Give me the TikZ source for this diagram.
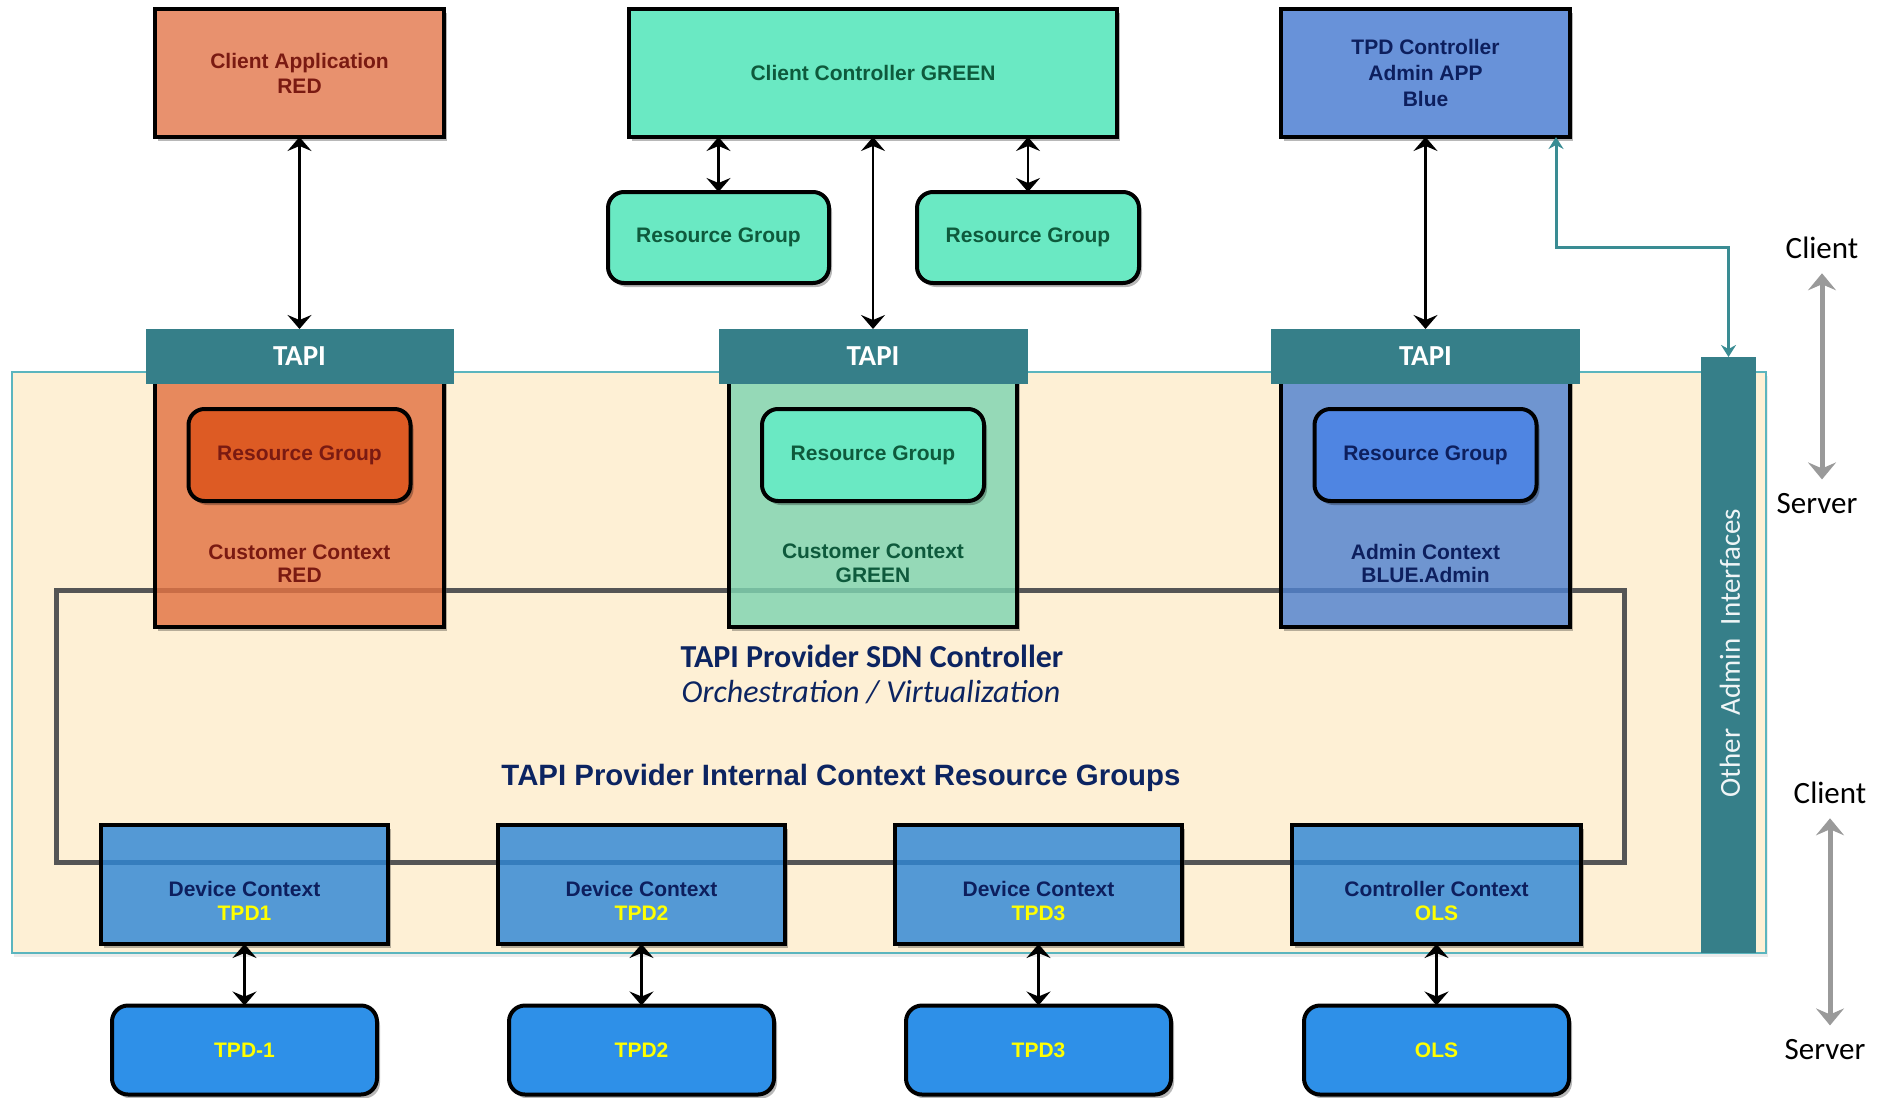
\documentclass[tikz,border=0pt]{standalone}
\usepackage{fontspec}
\setmainfont{Liberation Sans}
\newfontfamily\calib{Carlito}
\usetikzlibrary{arrows.meta,shadows,calc}

\definecolor{clientred}{HTML}{E8916E}
\definecolor{redtxt}{HTML}{7A1A12}
\definecolor{mint}{HTML}{6AE9C3}
\definecolor{greentxt}{HTML}{0E5A3C}
\definecolor{tpdblue}{HTML}{6892D9}
\definecolor{navytxt}{HTML}{0D1F5E}
\definecolor{rgred}{HTML}{DD5B24}
\definecolor{rgblue}{HTML}{4F85E2}
\definecolor{tapi}{HTML}{367F89}
\definecolor{tan}{HTML}{FEF0D5}
\definecolor{tanedge}{HTML}{5BB5BE}
\definecolor{frame}{HTML}{555555}
\definecolor{ctxred}{HTML}{E37343}
\definecolor{ctxgreen}{HTML}{7FD4B1}
\definecolor{ctxblue}{HTML}{5082CF}
\definecolor{devblue}{HTML}{2F86D5}
\definecolor{tpdbox}{HTML}{2E90E8}
\definecolor{yel}{HTML}{FFFF00}
\definecolor{titlenavy}{HTML}{0C2461}
\definecolor{tealline}{HTML}{3A8C93}
\definecolor{garrow}{HTML}{9A9A9A}

\tikzset{
  flat/.style={inner sep=0pt, outer sep=0pt},
  shad/.style={drop shadow={shadow xshift=1.5pt, shadow yshift=-2pt, opacity=.28, fill=black}},
  boxfont/.style={font=\bfseries\fontsize{10.5}{12.5}\selectfont, align=center},
  topbox/.style={flat, draw=black, line width=2pt, shad, boxfont},
  rgbox/.style={topbox, rounded corners=8pt},
  tapibar/.style={flat, fill=tapi, text=white, font=\calib\bfseries\fontsize{14.5}{17}\selectfont},
  ctxbase/.style={flat, fill=tan, shad},
  ctxbox/.style={flat, draw=black, line width=2pt, fill opacity=.82},
  ctxlabel/.style={align=center, font=\bfseries\fontsize{10.5}{11.8}\selectfont},
  link/.style={{Stealth[length=7pt,width=12pt,inset=2.5pt]}-{Stealth[length=7pt,width=12pt,inset=2.5pt]}, line width=1.2pt, black},
  sidearrow/.style={{Stealth[length=8.5pt,width=14pt,inset=3pt]}-{Stealth[length=8.5pt,width=14pt,inset=3pt]}, line width=2.5pt, garrow},
  sidelabel/.style={font=\calib\fontsize{15.5}{18}\selectfont, inner sep=1pt},
  adminlink/.style={{Stealth[length=6pt,width=7.5pt,inset=2pt]}-{Stealth[length=6pt,width=7.5pt,inset=2pt]}, line width=1.5pt, tealline}
}

\begin{document}
\begin{tikzpicture}[x=0.5pt,y=-0.5pt]
\useasboundingbox (0,0) rectangle (1878,1097);

% provider area
\node[flat, draw=tanedge, line width=1pt, fill=tan, minimum width=877pt, minimum height=290.5pt, drop shadow={shadow xshift=1pt, shadow yshift=-2pt, opacity=.15}] (prov) at (889,662.5) {};

% shadows of the translucent context boxes, kept out from under their fill
\node[ctxbase, minimum width=144.5pt, minimum height=123.5pt] (ctxrs) at (299.5,503.5) {};
\node[ctxbase, minimum width=144pt, minimum height=123.5pt] (ctxgs) at (873,503.5) {};
\node[ctxbase, minimum width=144.5pt, minimum height=123.5pt] (ctxbs) at (1425.5,503.5) {};
\node[ctxbase, minimum width=143.5pt, minimum height=59.5pt] (dc1s) at (244.5,884.5) {};
\node[ctxbase, minimum width=143.5pt, minimum height=59.5pt] (dc2s) at (641.5,884.5) {};
\node[ctxbase, minimum width=143.5pt, minimum height=59.5pt] (dc3s) at (1038.5,884.5) {};
\node[ctxbase, minimum width=144.5pt, minimum height=59.5pt] (dc4s) at (1436.5,884.5) {};

% SDN controller frame and the side bar
\node[flat, draw=frame, line width=2.5pt, minimum width=784pt, minimum height=136pt] (sdn) at (840,726) {};
\node[flat, fill=tapi, minimum width=27.5pt, minimum height=298pt] (oai) at (1728.5,655) {};
\node[rotate=90, text=white!92!tapi, font=\calib\fontsize{14.5}{17}\selectfont] (oaitext) at (1730,653) {Other\ \ Admin\ \ Interfaces};

% client side applications
\node[topbox, minimum width=144.5pt, minimum height=64pt, fill=clientred, text=redtxt] (capp) at (299.5,73) {Client Application\\RED};
\node[topbox, minimum width=244pt, minimum height=64pt, fill=mint, text=greentxt] (cctl) at (873,73) {Client Controller GREEN};
\node[topbox, minimum width=144.5pt, minimum height=64pt, fill=tpdblue, text=navytxt, font=\bfseries\fontsize{10.5}{13}\selectfont] (tpdc) at (1425.5,73) {TPD Controller\\Admin APP\\Blue};
\node[rgbox, minimum width=110.5pt, minimum height=45.5pt, fill=mint, text=greentxt] (rg1) at (718.5,237.5) {Resource Group};
\node[rgbox, minimum width=111pt, minimum height=45.5pt, fill=mint, text=greentxt] (rg2) at (1028,237.5) {Resource Group};

% contexts exposed through TAPI
\node[ctxbox, fill=ctxred, minimum width=144.5pt, minimum height=123.5pt] (ctxr) at (299.5,503.5) {};
\node[ctxbox, fill=ctxgreen, minimum width=144pt, minimum height=123.5pt] (ctxg) at (873,503.5) {};
\node[ctxbox, fill=ctxblue, minimum width=144.5pt, minimum height=123.5pt] (ctxb) at (1425.5,503.5) {};
\node[tapibar, minimum width=154pt, minimum height=27.5pt] (tapi1) at (299.5,356.5) {TAPI};
\node[tapibar, minimum width=154.5pt, minimum height=27.5pt] (tapi2) at (873,356.5) {TAPI};
\node[tapibar, minimum width=154.5pt, minimum height=27.5pt] (tapi3) at (1425.5,356.5) {TAPI};
\node[rgbox, minimum width=111pt, minimum height=46pt, fill=rgred, text=redtxt] (crg1) at (299.5,455) {Resource Group};
\node[rgbox, minimum width=111pt, minimum height=46pt, fill=mint, text=greentxt] (crg2) at (873,455) {Resource Group};
\node[rgbox, minimum width=111pt, minimum height=46pt, fill=rgblue, text=navytxt] (crg3) at (1425.5,455) {Resource Group};
\node[ctxlabel, text=redtxt] (lblr) at (299.5,563.5) {Customer Context\\RED};
\node[ctxlabel, text=greentxt] (lblg) at (873,563.5) {Customer Context\\GREEN};
\node[ctxlabel, text=navytxt] (lblb) at (1425.5,563.5) {Admin Context\\BLUE.Admin};

% provider titles
\node[text=titlenavy, font=\calib\bfseries\fontsize{16}{19}\selectfont] (ttl) at (872,656) {TAPI Provider SDN Controller};
\node[text=titlenavy, font=\calib\itshape\fontsize{16}{19}\selectfont] (sub) at (871,692) {Orchestration / Virtualization};
\node[text=titlenavy, font=\bfseries\fontsize{14.7}{17}\selectfont] (intl) at (841,778) {TAPI Provider Internal Context Resource Groups};

% device contexts
\node[ctxbox, fill=devblue, minimum width=143.5pt, minimum height=59.5pt] (dc1) at (244.5,884.5) {};
\node[ctxbox, fill=devblue, minimum width=143.5pt, minimum height=59.5pt] (dc2) at (641.5,884.5) {};
\node[ctxbox, fill=devblue, minimum width=143.5pt, minimum height=59.5pt] (dc3) at (1038.5,884.5) {};
\node[ctxbox, fill=devblue, minimum width=144.5pt, minimum height=59.5pt] (dc4) at (1436.5,884.5) {};
\node[ctxlabel, text=navytxt] (dl1) at (244.5,901) {Device Context\\\textcolor{yel}{TPD1}};
\node[ctxlabel, text=navytxt] (dl2) at (641.5,901) {Device Context\\\textcolor{yel}{TPD2}};
\node[ctxlabel, text=navytxt] (dl3) at (1038.5,901) {Device Context\\\textcolor{yel}{TPD3}};
\node[ctxlabel, text=navytxt] (dl4) at (1436.5,901) {Controller Context\\\textcolor{yel}{OLS}};

% physical devices
\node[rgbox, minimum width=132.5pt, minimum height=44.5pt, fill=tpdbox, text=yel] (dev1) at (244.5,1050) {TPD-1};
\node[rgbox, minimum width=132.5pt, minimum height=44.5pt, fill=tpdbox, text=yel] (dev2) at (641.5,1050) {TPD2};
\node[rgbox, minimum width=132.5pt, minimum height=44.5pt, fill=tpdbox, text=yel] (dev3) at (1038.5,1050) {TPD3};
\node[rgbox, minimum width=132.5pt, minimum height=44.5pt, fill=tpdbox, text=yel] (dev4) at (1436.5,1050) {OLS};

% connectors
\draw[link] (capp.south) -- (tapi1.north);
\draw[link] (cctl.south) -- (tapi2.north);
\draw[link] (tpdc.south) -- (tapi3.north);
\draw[link] (rg1.north |- cctl.south) -- (rg1.north);
\draw[link] (rg2.north |- cctl.south) -- (rg2.north);
\draw[link] (dc1.south) -- (dev1.north);
\draw[link] (dc2.south) -- (dev2.north);
\draw[link] (dc3.south) -- (dev3.north);
\draw[link] (dc4.south) -- (dev4.north);
\coordinate (bend) at (1728.5,247);
\draw[adminlink] ([xshift=-7pt]tpdc.south east) |- (bend) -- (oai.north);

% client / server roles
\node[sidelabel] (cl1) at (1822,248) {Client};
\node[sidelabel] (sv1) at (1817,504) {Server};
\node[sidelabel] (cl2) at (1830,793) {Client};
\node[sidelabel] (sv2) at (1825,1050) {Server};
\draw[sidearrow, shorten <=6pt, shorten >=6pt] (cl1.south) -- (cl1.south |- sv1.north);
\draw[sidearrow, shorten <=6pt, shorten >=6pt] (cl2.south) -- (cl2.south |- sv2.north);
\end{tikzpicture}
\end{document}
